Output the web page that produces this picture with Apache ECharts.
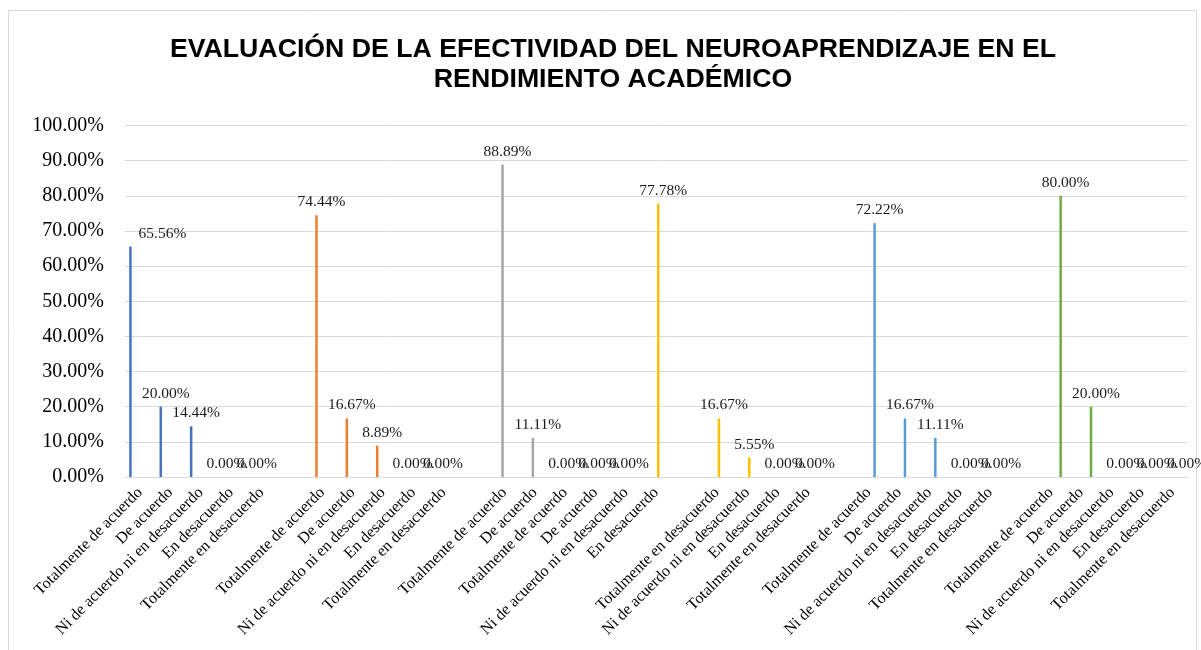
<!DOCTYPE html>
<html>
<head>
<meta charset="utf-8">
<script src="https://cdn.jsdelivr.net/npm/echarts@6/dist/echarts.min.js"></script>
<style>
html,body{margin:0;padding:0;background:#fff;}
#chart{width:1201px;height:650px;}
</style>
</head>
<body>
<div id="chart"></div>
<script>
const TA = 'Totalmente de acuerdo', DA = 'De acuerdo', NI = 'Ni de acuerdo ni en desacuerdo',
      ED = 'En desacuerdo', TD = 'Totalmente en desacuerdo';
const categories = [
  TA, DA, NI, ED, TD, '',
  TA, DA, NI, ED, TD, '',
  TA, DA, TA, DA, NI, ED, '', TD, NI, ED, TD, '',
  TA, DA, NI, ED, TD, '',
  TA, DA, NI, ED, TD
];
const _ = null;
const serie1 = [65.56, 20.00, 14.44, 0, 0, _, _, _, _, _, _, _, _, _, _, _, _, _, _, _, _, _, _, _, _, _, _, _, _, _, _, _, _, _, _];
const serie2 = [_, _, _, _, _, _, 74.44, 16.67, 8.89, 0, 0, _, _, _, _, _, _, _, _, _, _, _, _, _, _, _, _, _, _, _, _, _, _, _, _];
const serie3 = [_, _, _, _, _, _, _, _, _, _, _, _, 88.89, 11.11, 0, 0, 0, _, _, _, _, _, _, _, _, _, _, _, _, _, _, _, _, _, _];
const serie4 = [_, _, _, _, _, _, _, _, _, _, _, _, _, _, _, _, _, 77.78, _, 16.67, 5.55, 0, 0, _, _, _, _, _, _, _, _, _, _, _, _];
const serie5 = [_, _, _, _, _, _, _, _, _, _, _, _, _, _, _, _, _, _, _, _, _, _, _, _, 72.22, 16.67, 11.11, 0, 0, _, _, _, _, _, _];
const serie6 = [_, _, _, _, _, _, _, _, _, _, _, _, _, _, _, _, _, _, _, _, _, _, _, _, _, _, _, _, _, _, 80.00, 20.00, 0, 0, 0];
const seriesList = [serie1, serie2, serie3, serie4, serie5, serie6];
const seriesNames = ['Serie 1', 'Serie 2', 'Serie 3', 'Serie 4', 'Serie 5', 'Serie 6'];
const yTicks = { min: 0, max: 100, step: 10 };
const titleText = 'EVALUACIÓN DE LA EFECTIVIDAD DEL NEUROAPRENDIZAJE EN EL\nRENDIMIENTO ACADÉMICO';

const colors = ['#4472C4', '#ED7D31', '#A5A5A5', '#FFC000', '#5B9BD5', '#70AD47'];
const serif = '"Liberation Serif", "Times New Roman", serif';
const sans = '"Liberation Sans", Arial, sans-serif';
// label nudges (style only): series index -> data index -> offset
const labelNudges = { '0-0': [32, 0] };

const chart = echarts.init(document.getElementById('chart'), null, { renderer: 'canvas' });
const pct = v => Number(v).toFixed(2) + '%';

const series = seriesList.map((arr, si) => ({
  name: seriesNames[si],
  type: 'bar',
  barWidth: 2.5,
  barGap: '56%',
  itemStyle: { color: colors[si] },
  label: {
    show: true,
    position: 'top',
    distance: 5,
    offset: [5, 0],
    color: '#1a1a1a',
    fontFamily: serif,
    fontSize: 15.5,
    formatter: p => pct(p.value)
  },
  data: arr.map((v, di) => {
    const key = si + '-' + di;
    if (v !== null && labelNudges[key]) {
      return { value: v, label: { offset: labelNudges[key] } };
    }
    return v;
  })
}));

chart.setOption({
  animation: false,
  backgroundColor: '#fff',
  color: colors,
  title: {
    text: titleText,
    left: 608,
    textAlign: 'center',
    top: 30,
    textStyle: {
      fontFamily: sans,
      fontWeight: 'bold',
      fontSize: 26.7,
      lineHeight: 30,
      color: '#000'
    }
  },
  graphic: [{
    type: 'rect',
    shape: { x: 8.5, y: 10.5, width: 1188, height: 660 },
    style: { fill: 'none', stroke: '#D9D9D9', lineWidth: 1 },
    silent: true,
    z: -1
  }],
  grid: { left: 125, right: 13.5, top: 125.5, bottom: 173, containLabel: false },
  xAxis: {
    type: 'category',
    data: categories,
    axisTick: { show: false },
    axisLine: { lineStyle: { color: '#D9D9D9', width: 1 } },
    axisLabel: {
      interval: 0,
      rotate: 45,
      margin: 13,
      color: '#000',
      fontFamily: serif,
      fontSize: 16,
      fontWeight: 'normal'
    },
    splitLine: { show: false }
  },
  yAxis: {
    type: 'value',
    min: yTicks.min,
    max: yTicks.max,
    interval: yTicks.step,
    axisLine: { show: false },
    axisTick: { show: false },
    axisLabel: {
      color: '#000',
      fontFamily: serif,
      fontSize: 20,
      fontWeight: 'normal',
      margin: 21,
      formatter: v => pct(v)
    },
    splitLine: { lineStyle: { color: '#D9D9D9', width: 1 } }
  },
  series: series
});
</script>
</body>
</html>
